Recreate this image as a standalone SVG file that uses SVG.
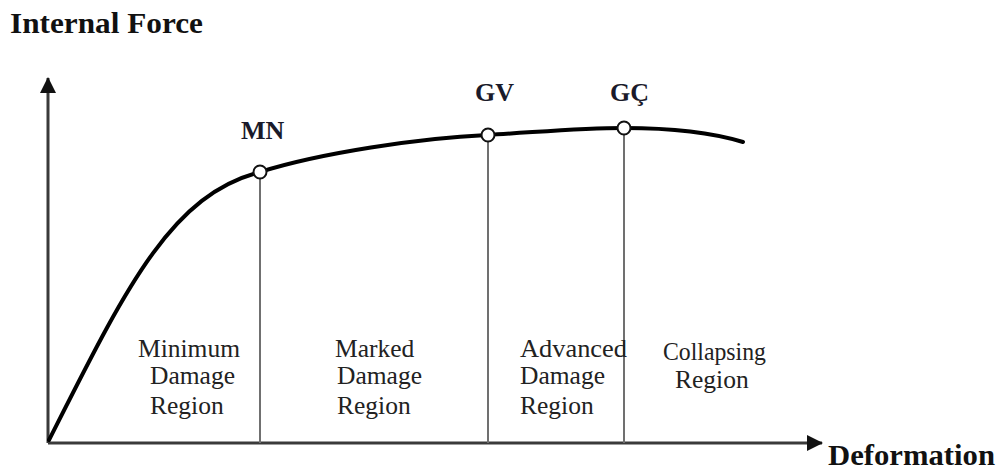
<svg xmlns="http://www.w3.org/2000/svg" width="1004" height="473" viewBox="0 0 1004 473">
<style>
.title{font-family:"Liberation Serif","Times New Roman",serif;font-weight:bold;font-size:30px;fill:#111}
.pt{font-family:"Liberation Serif","Times New Roman",serif;font-weight:bold;font-size:26px;fill:#1a1a2a}
.reg{font-family:"Liberation Serif","Times New Roman",serif;font-size:25.5px;fill:#222}
.axis{stroke:#3a3a3a;stroke-width:3;fill:none}
.div{stroke:#707070;stroke-width:2;fill:none}
.curve{stroke:#000;stroke-width:4;fill:none;stroke-linecap:round}
.node{fill:#fff;stroke:#111;stroke-width:2}
</style>
<defs>
<marker id="ah" viewBox="0 0 16 16" refX="15" refY="8" markerWidth="16" markerHeight="16" markerUnits="userSpaceOnUse" orient="auto">
<path d="M0,0 L16,8 L0,16 Z" fill="#111"/>
</marker>
</defs>
<rect width="1004" height="473" fill="#fff"/>
<text class="title" x="10" y="33" textLength="193" lengthAdjust="spacingAndGlyphs">Internal Force</text>
<text class="title" x="828" y="465" textLength="167" lengthAdjust="spacingAndGlyphs">Deformation</text>
<g id="connectors">
<line class="axis" x1="48" y1="443" x2="48" y2="78" marker-end="url(#ah)"/>
<line class="axis" x1="48" y1="443" x2="822" y2="443" marker-end="url(#ah)"/>
<line class="div" x1="260" y1="172" x2="260" y2="443"/>
<line class="div" x1="488" y1="135" x2="488" y2="443"/>
<line class="div" x1="624" y1="128" x2="624" y2="443"/>
<path class="curve" d="M49,440 C125,290 170,195 260,172 C320,153 420,138 487,135 C540,132 580,128 624,128 C670,128 710,132 743,142"/>
</g>
<g id="MN">
<circle class="node" cx="260" cy="172" r="6.5"/>
<text class="pt" x="241" y="139">MN</text>
</g>
<g id="GV">
<circle class="node" cx="488" cy="135" r="6.5"/>
<text class="pt" x="475" y="101">GV</text>
</g>
<g id="GC">
<circle class="node" cx="624" cy="128" r="6.5"/>
<text class="pt" x="610" y="101">GÇ</text>
</g>
<g id="minimum-region">
<text class="reg" x="138" y="357">Minimum</text>
<text class="reg" x="150" y="384">Damage</text>
<text class="reg" x="150" y="414">Region</text>
</g>
<g id="marked-region">
<text class="reg" x="335" y="357">Marked</text>
<text class="reg" x="337" y="384">Damage</text>
<text class="reg" x="337" y="414">Region</text>
</g>
<g id="advanced-region">
<text class="reg" x="520" y="357" textLength="107" lengthAdjust="spacingAndGlyphs">Advanced</text>
<text class="reg" x="520" y="384">Damage</text>
<text class="reg" x="520" y="414">Region</text>
</g>
<g id="collapsing-region">
<text class="reg" x="663" y="360" textLength="103" lengthAdjust="spacingAndGlyphs">Collapsing</text>
<text class="reg" x="675" y="388">Region</text>
</g>
</svg>
